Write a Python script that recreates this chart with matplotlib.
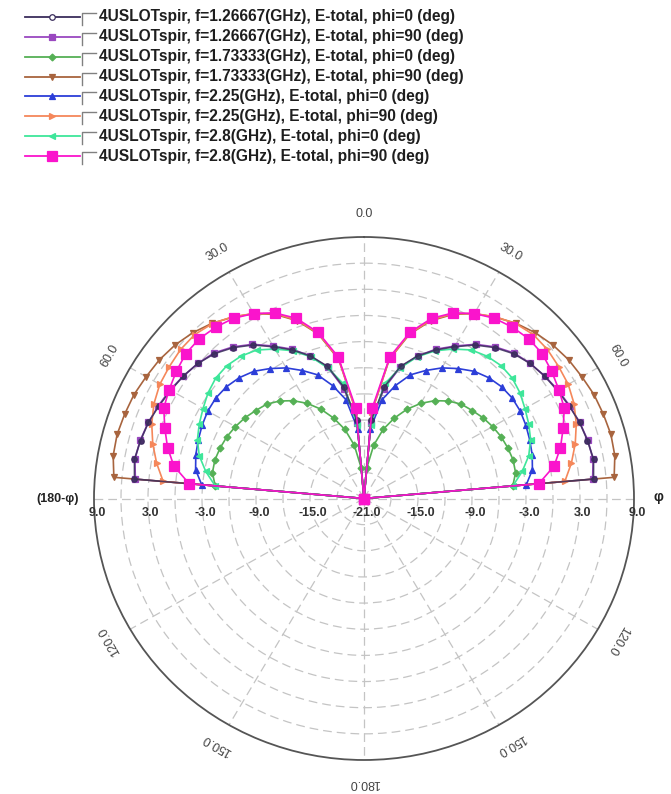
import matplotlib
matplotlib.use('Agg')
import matplotlib.pyplot as plt
import numpy as np

plt.rcParams['font.family'] = ['Liberation Sans', 'DejaVu Sans']

# theta samples in deg (one half of the cut); the (180-phi) half mirrors it
theta_deg = [0, 5, 10, 15, 20, 25, 30, 35, 40, 45, 50, 55, 60, 65, 70, 75, 80, 85, 90]

# E-total in dB, -21 = plot centre
etot_f1267_phi0 = [-21, -12.0, -8.0, -5.3, -3.6, -2.2, -0.9, 0.5, 1.6, 2.5, 3.1, 3.5, 3.8, 4.15, 4.5, 4.7, 4.9, 4.6, -21]
etot_f1267_phi90 = [-21, -12.3, -8.2, -5.4, -3.6, -2.1, -0.8, 0.6, 1.7, 2.6, 3.1, 3.5, 3.9, 4.2, 4.5, 4.75, 4.85, 4.5, -21]
etot_f1733_phi0 = [-21, -17.5, -14.8, -12.8, -11.2, -9.7, -8.4, -7.3, -6.4, -5.7, -5.3, -4.85, -4.5, -4.2, -4.0, -3.85, -3.9, -4.4, -21]
etot_f1733_phi90 = [-21, -11.0, -4.8, -1.5, 0.7, 2.3, 3.5, 4.4, 5.25, 5.9, 6.4, 6.75, 6.95, 7.2, 7.3, 7.4, 7.3, 6.9, -21]
etot_f225_phi0 = [-21, -13.0, -9.5, -7.6, -5.9, -4.8, -3.7, -2.8, -1.95, -1.4, -1.05, -0.9, -0.95, -1.15, -1.4, -1.65, -2.0, -2.9, -21]
etot_f225_phi90 = [-21, -11.0, -4.7, -1.4, 0.8, 2.4, 3.5, 4.45, 5.2, 5.6, 5.6, 5.4, 5.2, 4.75, 4.1, 3.3, 2.4, 1.4, -21]
etot_f28_phi0 = [-21, -12.5, -7.6, -5.5, -3.7, -2.3, -1.2, -0.2, 0.3, 0.55, 0.5, 0.15, -0.35, -0.8, -1.3, -2.05, -3.15, -4.4, -21]
etot_f28_phi90 = [-21, -10.6, -4.5, -1.25, 1.0, 2.5, 3.5, 4.25, 4.65, 4.9, 4.85, 4.45, 4.0, 3.55, 2.55, 1.6, 0.45, -1.5, -21]

labels = [
    '4USLOTspir, f=1.26667(GHz), E-total, phi=0 (deg)',
    '4USLOTspir, f=1.26667(GHz), E-total, phi=90 (deg)',
    '4USLOTspir, f=1.73333(GHz), E-total, phi=0 (deg)',
    '4USLOTspir, f=1.73333(GHz), E-total, phi=90 (deg)',
    '4USLOTspir, f=2.25(GHz), E-total, phi=0 (deg)',
    '4USLOTspir, f=2.25(GHz), E-total, phi=90 (deg)',
    '4USLOTspir, f=2.8(GHz), E-total, phi=0 (deg)',
    '4USLOTspir, f=2.8(GHz), E-total, phi=90 (deg)',
]
series = [etot_f1267_phi0, etot_f1267_phi90, etot_f1733_phi0, etot_f1733_phi90,
          etot_f225_phi0, etot_f225_phi90, etot_f28_phi0, etot_f28_phi90]
colors = ['#3a2d5c', '#9a48c0', '#55b055', '#a8643e', '#2c3ed8', '#f5875a', '#3ee69a', '#fa14cc']
markers = ['o', 's', 'D', 'v', '^', '>', '<', 's']
msizes = [4, 4, 3.5, 4.5, 4.5, 4, 4, 6.5]
# draw order: the two 1.26667 GHz cuts overlap, dark one on top
zorders = [3.2, 3.0, 3.0, 3.0, 3.0, 3.0, 3.0, 3.3]

r_ticks = [9, 3, -3, -9, -15]
angle_ticks = [0, 30, 60, 120, 150, 180]

fig = plt.figure(figsize=(6.71, 7.94), dpi=100)
ax = fig.add_axes([94 / 671, 34 / 794, 540 / 671, 523 / 794], projection='polar')
ax.set_aspect('auto')
ax.set_theta_zero_location('N')
ax.set_theta_direction(-1)
ax.set_ylim(-21, 9)
ax.set_yticks(np.arange(-18, 9, 3))
ax.set_yticklabels([])
ax.set_xticks(np.deg2rad(np.arange(0, 360, 30)))
ax.set_xticklabels([])
ax.grid(True, color='#c4c4c4', linestyle=(0, (7, 4)), linewidth=0.9)
ax.spines['polar'].set_color('#555555')
ax.spines['polar'].set_linewidth(1.3)

th = np.array(theta_deg, dtype=float)
th_full = np.deg2rad(np.concatenate([-th[::-1], th[1:]]))
for vals, c, m, ms, z in zip(series, colors, markers, msizes, zorders):
    v = np.array(vals)
    r_full = np.concatenate([v[::-1], v[1:]])
    ax.plot(th_full, r_full, color=c, lw=1.2, marker=m, ms=ms, mfc=c, mec=c, mew=0.9,
            alpha=0.85 if z == 3.2 else 1.0, zorder=z, clip_on=False)

# angle labels, both halves
for a in angle_ticks:
    sides = [1] if a in (0, 180) else [1, -1]
    for s in sides:
        ax.text(np.deg2rad(s * a), 11.6, '%.1f' % a, rotation=-s * a, rotation_mode='anchor',
                ha='center', va='center', fontsize=9, color='#444444', clip_on=False)

# radial labels along the horizontal axis
for v in r_ticks:
    for s in (1, -1):
        ax.annotate('%.1f' % v, xy=(np.deg2rad(s * 90), v), xytext=(3, -14), textcoords='offset pixels',
                    ha='center', va='center', fontsize=9, fontweight='bold', color='#333333',
                    annotation_clip=False)
ax.annotate('-21.0', xy=(0, -21), xytext=(3, -14), textcoords='offset pixels',
            ha='center', va='center', fontsize=9, fontweight='bold', color='#333333', annotation_clip=False)

ax.annotate('(180-φ)', xy=(np.deg2rad(-90), 9), xytext=(-15, -1), textcoords='offset pixels',
            ha='right', va='center', fontsize=9, fontweight='bold', color='#222222', annotation_clip=False)
ax.annotate('φ', xy=(np.deg2rad(90), 9), xytext=(24, 2), textcoords='offset pixels',
            ha='center', va='center', fontsize=10, fontweight='bold', color='#222222', annotation_clip=False)

# legend block at top, in pixel units
lg = fig.add_axes([0, 0, 1, 1])
lg.set_xlim(0, 671)
lg.set_ylim(794, 0)
lg.axis('off')
for i, (lab, c, m, ms) in enumerate(zip(labels, colors, markers, msizes)):
    y = 17 + 19.86 * i
    mfc = 'white' if m == 'o' else c
    lg.plot([25, 80], [y, y], color=c, lw=1.3)
    lg.plot([52], [y], marker=m, ms=ms, color=c, mfc=mfc, mec=c, mew=0.9)
    lg.plot([82, 82, 96], [y + 8, y - 4, y - 4], color='#808080', lw=1)
    lg.text(99, y, lab, va='center', ha='left', fontsize=11.2, fontweight='bold', color='#1e1e1e')

fig.savefig('out.png', dpi=100)
